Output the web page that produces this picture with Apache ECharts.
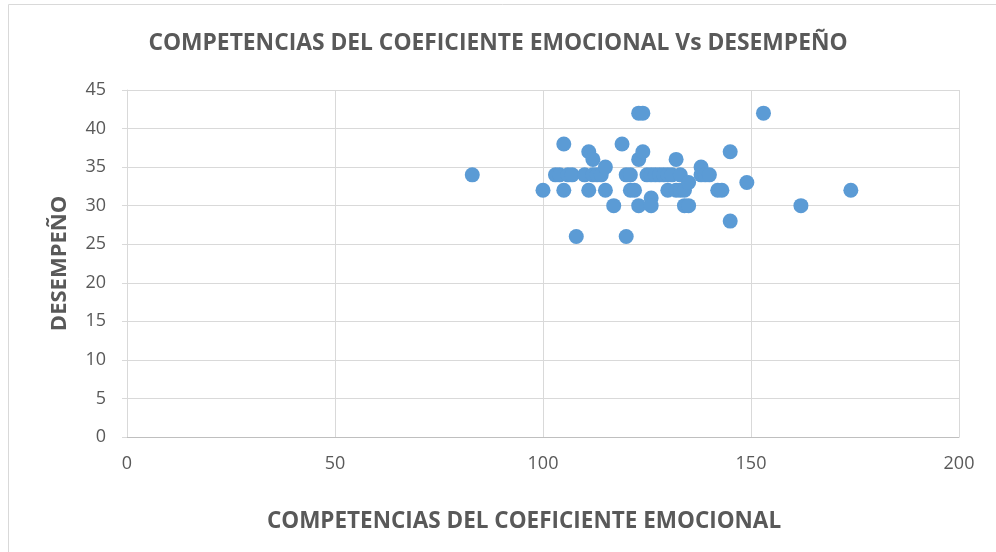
<!DOCTYPE html>
<html>
<head>
<meta charset="utf-8">
<script src="https://cdn.jsdelivr.net/npm/echarts@6/dist/echarts.min.js"></script>
<style>
  html, body { margin: 0; padding: 0; background: #fff; }
  #chart { width: 996px; height: 552px; }
</style>
</head>
<body>
<div id="chart"></div>
<script>
// competencias (x) vs desempeño (y)
const competencias = [83, 100, 103, 104, 105, 105, 106, 107, 108, 110, 111, 111, 112, 112, 113, 114,
  115, 115, 117, 119, 120, 120, 121, 121, 122, 123, 123, 123, 124, 124, 125, 126, 126, 126, 127, 128,
  129, 130, 130, 131, 132, 132, 133, 133, 134, 134, 135, 135, 138, 138, 139, 140, 142, 143, 145, 145,
  149, 153, 162, 174]
const desempeno = [34, 32, 34, 34, 38, 32, 34, 34, 26, 34, 37, 32, 36, 34, 34, 34,
  35, 32, 30, 38, 34, 26, 34, 32, 32, 42, 36, 30, 42, 37, 34, 34, 31, 30, 34, 34,
  34, 34, 32, 34, 36, 32, 34, 32, 32, 30, 33, 30, 35, 34, 34, 34, 32, 32, 37, 28,
  33, 42, 30, 32]
const xTicks = [0, 200, 50]
const yTicks = [0, 45, 5]

const points = competencias.map((x, i) => [x, desempeno[i]])
const gray = '#595959'
const font = '"Open Sans", sans-serif'

const chart = echarts.init(document.getElementById('chart'))
chart.setOption({
  animation: false,
  title: {
    text: 'COMPETENCIAS DEL COEFICIENTE EMOCIONAL Vs DESEMPEÑO',
    left: 'center',
    top: 27,
    textStyle: { fontFamily: font, fontSize: 22.8, fontWeight: 'bold', color: gray }
  },
  graphic: [{
    type: 'rect',
    shape: { x: 8.5, y: 4.5, width: 1000, height: 560 },
    style: { fill: 'none', stroke: '#d9d9d9', lineWidth: 1 }
  }],
  grid: { left: 127, right: 37, top: 90, bottom: 115 },
  xAxis: {
    type: 'value',
    min: xTicks[0], max: xTicks[1], interval: xTicks[2],
    name: 'COMPETENCIAS DEL COEFICIENTE EMOCIONAL',
    nameLocation: 'middle',
    nameGap: 73,
    nameTextStyle: { fontFamily: font, fontSize: 22.5, fontWeight: 'bold', color: gray, padding: [0, 38, 0, 0] },
    axisLine: { show: true, lineStyle: { color: '#bfbfbf' } },
    axisTick: { show: false },
    axisLabel: { fontFamily: font, fontSize: 18, color: gray, margin: 18 },
    splitLine: { lineStyle: { color: '#d9d9d9' } }
  },
  yAxis: {
    type: 'value',
    min: yTicks[0], max: yTicks[1], interval: yTicks[2],
    name: 'DESEMPEÑO',
    nameLocation: 'middle',
    nameGap: 56,
    nameTextStyle: { fontFamily: font, fontSize: 22, fontWeight: 'bold', color: gray },
    axisLine: { show: true, lineStyle: { color: '#d9d9d9' } },
    axisTick: { show: true, inside: false, length: 5, lineStyle: { color: '#d9d9d9' } },
    axisLabel: { fontFamily: font, fontSize: 18, color: gray, margin: 21 },
    splitLine: { lineStyle: { color: '#d9d9d9' } }
  },
  series: [{
    type: 'scatter',
    data: points,
    symbolSize: 15,
    itemStyle: { color: '#5b9bd5', opacity: 1 }
  }]
})
window.addEventListener('resize', () => {
  chart.resize()
})
</script>
</body>
</html>
